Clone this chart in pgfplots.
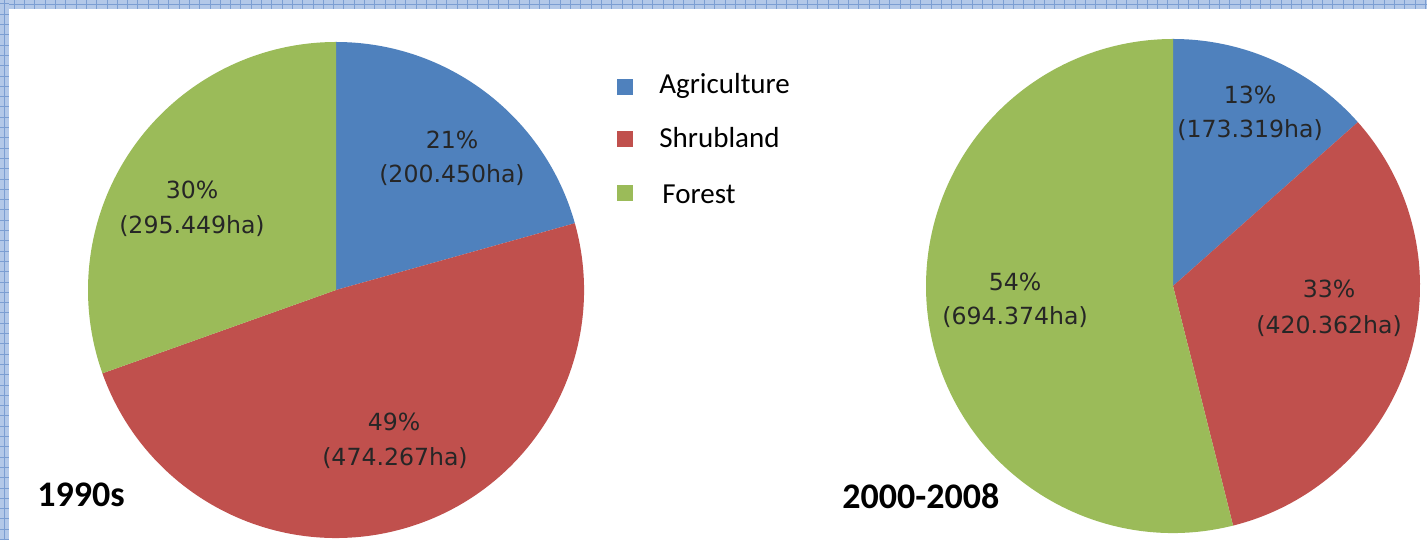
\documentclass[border=0pt]{standalone}
\usepackage{pgfplots}
\pgfplotsset{compat=1.18}
\usepackage{pgfplotstable}
\usepackage{fontspec}
\setmainfont{Carlito}
\newfontfamily\lblfont{DejaVu Sans}
\definecolor{agri}{HTML}{4F81BD}
\definecolor{shrub}{HTML}{C0504D}
\definecolor{forest}{HTML}{9BBB59}
\definecolor{gridband}{HTML}{B3C8E8}
\definecolor{gridline}{HTML}{7C9ED2}

% areas in ha
\pgfplotstableread{
category value
Agriculture 200.450
Shrubland 474.267
Forest 295.449
}\nineties
\pgfplotstableread{
category value
Agriculture 173.319
Shrubland 420.362
Forest 694.374
}\twothousands

\newcommand\pieangles[3]{%
  \pgfplotstablegetelem{0}{value}\of#1\pgfmathsetmacro\va{\pgfplotsretval}%
  \pgfplotstablegetelem{1}{value}\of#1\pgfmathsetmacro\vb{\pgfplotsretval}%
  \pgfplotstablegetelem{2}{value}\of#1\pgfmathsetmacro\vc{\pgfplotsretval}%
  \pgfmathsetmacro\vt{\va+\vb+\vc}%
  \pgfmathsetmacro\fa{\va/\vt}%
  \pgfmathsetmacro\fb{(\va+\vb)/\vt}%
  \pgfmathsetmacro#2{90-360*\fa}%
  \pgfmathsetmacro#3{90-360*\fb}%
}

\tikzset{
  lbl/.style={font=\lblfont\fontsize{11.8}{14}\selectfont, text=black!85, anchor=base, inner sep=0pt},
  leg/.style={font=\fontsize{14.5}{17}\selectfont, text=black, anchor=base west, inner sep=0pt},
  ttl/.style={font=\fontsize{18}{21}\selectfont\bfseries, text=black, anchor=base west, inner sep=0pt},
}

\begin{document}
\begin{tikzpicture}
\pieangles{\nineties}{\Aone}{\Atwo}
\pieangles{\twothousands}{\Bone}{\Btwo}
\useasboundingbox (0,0) rectangle (713.5pt,270pt);
\fill[white] (0,0) rectangle (713.5pt,270pt);
\begin{axis}[
  at={(0,0)}, anchor=south west,
  x=0.5pt, y=0.5pt,
  xmin=0, xmax=1427, ymin=0, ymax=540,
  hide axis, clip=false,
]
% ---- 1990s pie
\fill[agri] (axis cs:336,250) -- ++(90:124pt) arc[start angle=90,end angle=\Aone,radius=124pt] -- cycle;
\fill[shrub] (axis cs:336,250) -- ++(\Aone:124pt) arc[start angle=\Aone,end angle=\Atwo,radius=124pt] -- cycle;
\fill[forest] (axis cs:336,250) -- ++(\Atwo:124pt) arc[start angle=\Atwo,end angle=-270,radius=124pt] -- cycle;
% ---- 2000-2008 pie
\fill[agri] (axis cs:1173,254) -- ++(90:123.5pt) arc[start angle=90,end angle=\Bone,radius=123.5pt] -- cycle;
\fill[shrub] (axis cs:1173,254) -- ++(\Bone:123.5pt) arc[start angle=\Bone,end angle=\Btwo,radius=123.5pt] -- cycle;
\fill[forest] (axis cs:1173,254) -- ++(\Btwo:123.5pt) arc[start angle=\Btwo,end angle=-270,radius=123.5pt] -- cycle;
% ---- labels
\node[lbl] at (axis cs:452,391) {21\%};
\node[lbl] at (axis cs:452,357) {(200.450ha)};
\node[lbl] at (axis cs:394,109) {49\%};
\node[lbl] at (axis cs:395,74) {(474.267ha)};
\node[lbl] at (axis cs:192,341) {30\%};
\node[lbl] at (axis cs:192,306) {(295.449ha)};
\node[lbl] at (axis cs:1250,436) {13\%};
\node[lbl] at (axis cs:1250,402) {(173.319ha)};
\node[lbl] at (axis cs:1329,242) {33\%};
\node[lbl] at (axis cs:1329,206) {(420.362ha)};
\node[lbl] at (axis cs:1015,249) {54\%};
\node[lbl] at (axis cs:1015,215) {(694.374ha)};
% ---- legend
\fill[agri] (axis cs:617,445) rectangle (axis cs:633,461);
\fill[shrub] (axis cs:617,393) rectangle (axis cs:633,409);
\fill[forest] (axis cs:617,339) rectangle (axis cs:633,355);
\node[leg] at (axis cs:659,446) {Agriculture};
\node[leg] at (axis cs:659,392) {Shrubland};
\node[leg] at (axis cs:662,336) {Forest};
% ---- titles
\node[ttl] at (axis cs:37,33) {1990s};
\node[ttl] at (axis cs:842,32) {2000-2008};
\end{axis}
% ---- decorative blue grid frame (top and left)
\fill[gridband] (0,265.5pt) rectangle (713.5pt,270pt);
\fill[gridband] (0,0) rectangle (4.5pt,270pt);
\foreach \i in {0,...,138} {
  \draw[gridline, line width=0.5pt] ({2pt+\i*5.15pt},265.5pt) -- ({2pt+\i*5.15pt},270pt);
}
\foreach \i in {0,...,52} {
  \draw[gridline, line width=0.5pt] (0,{268pt-\i*5.15pt}) -- (4.5pt,{268pt-\i*5.15pt});
}
\draw[gridline, line width=0.4pt] (4.5pt,267.6pt) -- (713.5pt,267.6pt);
\draw[gridline, line width=0.4pt] (2.2pt,0) -- (2.2pt,265.5pt);
\end{tikzpicture}
\end{document}
